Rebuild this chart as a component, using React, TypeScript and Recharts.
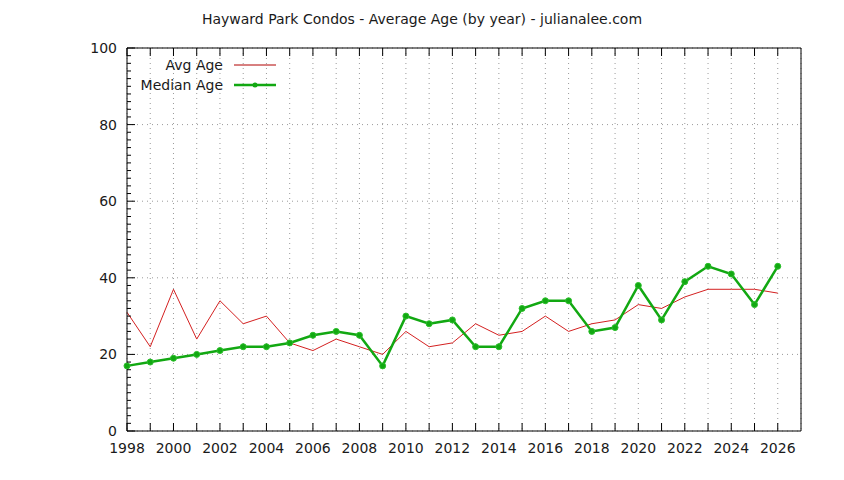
import React from 'react';
import { LineChart, Line, XAxis, YAxis, CartesianGrid } from 'recharts';

const years = [
  1998, 1999, 2000, 2001, 2002, 2003, 2004, 2005, 2006, 2007, 2008, 2009, 2010, 2011, 2012,
  2013, 2014, 2015, 2016, 2017, 2018, 2019, 2020, 2021, 2022, 2023, 2024, 2025, 2026,
];
const avgAge = [
  31, 22, 37, 24, 34, 28, 30, 23, 21, 24, 22, 20, 26, 22, 23,
  28, 25, 26, 30, 26, 28, 29, 33, 32, 35, 37, 37, 37, 36,
];
const medianAge = [
  17, 18, 19, 20, 21, 22, 22, 23, 25, 26, 25, 17, 30, 28, 29,
  22, 22, 32, 34, 34, 26, 27, 38, 29, 39, 43, 41, 33, 43,
];
const xTicks = years;
const yMajorTicks = [0, 20, 40, 60, 80, 100];
const yAllTicks = Array.from({ length: 51 }, (_, i) => i * 2);

const title = 'Hayward Park Condos - Average Age (by year) - julianalee.com';
const FONT = '"DejaVu Sans", sans-serif';
const FS = 14;
const RED = '#d42020';
const GREEN = '#12a812';
const TXT = '#1a1a1a';

const data = years.map((year, i) => ({
  year,
  avg: avgAge[i],
  median: medianAge[i],
}));

// tick marks point inward like gnuplot; (x, y) is the point on the border
const BottomTick = (p: any) => {
  const v = p.payload.value;
  return (
    <g>
      <line x1={p.x} x2={p.x} y1={p.y} y2={p.y - 8} stroke="#000" />
      {v % 2 === 0 && (
        <text x={p.x} y={p.y + 12} dy="0.71em" textAnchor="middle" fill={TXT} fontSize={FS} fontFamily={FONT}>
          {v}
        </text>
      )}
    </g>
  );
};

const TopTick = (p: any) => <line x1={p.x} x2={p.x} y1={p.y} y2={p.y + 8} stroke="#000" />;

const LeftTick = (p: any) => {
  const v = p.payload.value;
  const major = v % 20 === 0;
  return (
    <g>
      <line x1={p.x} x2={p.x + (major ? 8 : 4)} y1={p.y} y2={p.y} stroke="#000" />
      {major && (
        <text x={p.x - 10} y={p.y} dy="0.355em" textAnchor="end" fill={TXT} fontSize={FS} fontFamily={FONT}>
          {v}
        </text>
      )}
    </g>
  );
};

const RightTick = (p: any) => {
  const major = p.payload.value % 20 === 0;
  return <line x1={p.x} x2={p.x - (major ? 8 : 4)} y1={p.y} y2={p.y} stroke="#000" />;
};

// gnuplot-style key, top left inside the plot
const GnuLegend = () => (
  <div
    style={{
      position: 'absolute',
      top: 55,
      left: 100,
      width: 176,
      fontFamily: FONT,
      fontSize: FS,
      color: TXT,
    }}
  >
    <div style={{ display: 'flex', alignItems: 'center', height: 20, justifyContent: 'flex-end' }}>
      <span>Avg Age</span>
      <svg width={53} height={10}>
        <line x1={11} x2={53} y1={5} y2={5} stroke="#b00000" strokeWidth={1} />
      </svg>
    </div>
    <div style={{ display: 'flex', alignItems: 'center', height: 20, justifyContent: 'flex-end' }}>
      <span>Median Age</span>
      <svg width={53} height={10}>
        <line x1={11} x2={53} y1={5} y2={5} stroke={GREEN} strokeWidth={2.5} />
        <circle cx={32} cy={5} r={2.5} fill={GREEN} />
      </svg>
    </div>
  </div>
);

export default function App() {
  return (
    <div style={{ position: 'absolute', left: 0, top: 0, width: 844, height: 480, background: '#fff' }}>
      <div
        style={{
          position: 'absolute',
          top: 11,
          left: 0,
          width: 844,
          textAlign: 'center',
          fontFamily: FONT,
          fontSize: FS,
          color: TXT,
        }}
      >
        {title}
      </div>
      <LineChart
        width={844}
        height={480}
        data={data}
        margin={{ top: 47, right: 42, bottom: 19, left: 87 }}
        style={{ fontFamily: FONT }}
      >
        <CartesianGrid
          stroke="#9a9a9a"
          strokeDasharray="1 4"
          xAxisId="x"
          yAxisId="y"
          horizontalValues={yMajorTicks}
        />
        <XAxis
          xAxisId="x"
          dataKey="year"
          type="number"
          domain={[1998, 2027]}
          ticks={xTicks}
          interval={0}
          tick={BottomTick}
          tickLine={false}
          tickSize={0}
          tickMargin={0}
          axisLine={{ stroke: '#000' }}
          height={30}
        />
        <XAxis
          xAxisId="xt"
          orientation="top"
          dataKey="year"
          type="number"
          domain={[1998, 2027]}
          ticks={xTicks}
          interval={0}
          tick={TopTick}
          tickLine={false}
          tickSize={0}
          tickMargin={0}
          axisLine={{ stroke: '#000' }}
          height={1}
        />
        <YAxis
          yAxisId="y"
          domain={[0, 100]}
          ticks={yAllTicks}
          interval={0}
          tick={LeftTick}
          tickLine={false}
          tickSize={0}
          tickMargin={0}
          axisLine={{ stroke: '#000' }}
          width={40}
        />
        <YAxis
          yAxisId="yr"
          orientation="right"
          domain={[0, 100]}
          ticks={yAllTicks}
          interval={0}
          tick={RightTick}
          tickLine={false}
          tickSize={0}
          tickMargin={0}
          axisLine={{ stroke: '#000' }}
          width={1}
        />
        <Line
          xAxisId="x"
          yAxisId="y"
          type="linear"
          dataKey="avg"
          name="Avg Age"
          stroke={RED}
          strokeWidth={1}
          dot={false}
          isAnimationActive={false}
        />
        <Line
          xAxisId="x"
          yAxisId="y"
          type="linear"
          dataKey="median"
          name="Median Age"
          stroke={GREEN}
          strokeWidth={2.5}
          dot={{ r: 3, fill: GREEN, stroke: '#2cc02c', strokeWidth: 1 }}
          isAnimationActive={false}
        />
      </LineChart>
      <GnuLegend />
    </div>
  );
}
